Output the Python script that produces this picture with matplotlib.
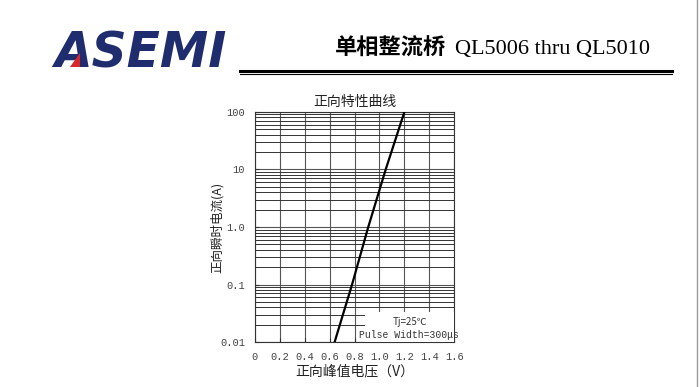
import matplotlib.pyplot as plt
from matplotlib.patches import Rectangle, Polygon
from matplotlib.ticker import FixedLocator, LogLocator, NullFormatter
import numpy as np

plt.rcParams['font.family'] = ['Noto Sans CJK SC', 'DejaVu Sans']

# forward characteristic
volts = [0.64, 0.78, 0.91, 1.05, 1.2]
amps = [0.01, 0.1, 1.0, 10.0, 100.0]

x_ticks = [0, 0.2, 0.4, 0.6, 0.8, 1.0, 1.2, 1.4, 1.6]
x_labels = ["0", "0.2", "0.4", "0.6", "0.8", "1.0", "1.2", "1.4", "1.6"]
y_ticks = [0.01, 0.1, 1.0, 10, 100]
y_labels = ["0.01", "0.1", "1.0", "10", "100"]

fig = plt.figure(figsize=(7, 3.87), dpi=100)

# header: logo, title, double rule
fig.text(0.078, 0.862, "ASEMI", fontsize=35, fontweight='heavy', style='italic',
         color='#1f2d6e', family='DejaVu Sans', ha='left', va='center')
fig.patches.append(Polygon([[0.100, 0.826], [0.114, 0.826], [0.114, 0.862]],
                           closed=True, transform=fig.transFigure,
                           facecolor='#d8262b', edgecolor='none', zorder=5))
fig.text(0.478, 0.875, "单相整流桥", fontsize=16, fontweight='bold',
         color='black', ha='left', va='center', family='Noto Sans CJK SC')
fig.text(0.650, 0.872, "QL5006 thru QL5010", fontsize=16, color='black',
         ha='left', va='center', family='Liberation Serif')
fig.add_artist(plt.Line2D([0.343, 0.96], [0.817, 0.817], color='black', lw=2.2))
fig.add_artist(plt.Line2D([0.343, 0.96], [0.809, 0.809], color='black', lw=0.8))
fig.add_artist(plt.Line2D([0.996, 0.996], [0.0, 1.0], color='#999999', lw=1))

ax = fig.add_axes([0.364, 0.116, 0.285, 0.595])
ax.set_yscale('log')
ax.set_xlim(0, 1.6)
ax.set_ylim(0.01, 100)

ax.yaxis.set_major_locator(FixedLocator(y_ticks))
ax.yaxis.set_minor_locator(LogLocator(base=10, subs=np.arange(2, 10)))
ax.yaxis.set_minor_formatter(NullFormatter())
ax.set_yticklabels(y_labels)
ax.set_xticks(x_ticks)
ax.set_xticklabels(x_labels)

ax.grid(True, which='major', color='#555555', lw=0.8)
ax.grid(True, which='minor', axis='y', color='#333333', lw=0.7)
ax.tick_params(which='both', direction='in', length=3, labelsize=7.5, pad=7,
               colors='#333333', labelcolor='#444444')
for lbl in ax.get_xticklabels() + ax.get_yticklabels():
    lbl.set_family('Liberation Mono')
for s in ax.spines.values():
    s.set_color('#333333')
    s.set_linewidth(0.8)

ax.plot(volts, amps, color='black', lw=1.6, zorder=4)

box = Rectangle((0.88, 0.01), 0.72, 0.024, facecolor='white', edgecolor='none',
                zorder=3)
ax.add_patch(box)
ax.text(1.24, 0.022, "Tj=25℃", fontsize=7, ha='center', va='center', zorder=5,
        color='#333333')
ax.text(1.24, 0.0135, "Pulse Width=300μs", fontsize=7, ha='center', va='center',
        zorder=5, color='#333333', family=['Liberation Mono', 'DejaVu Sans'])

ax.set_title("正向特性曲线", fontsize=10, pad=4, color='#222222')
ax.set_xlabel("正向峰值电压（V）", fontsize=10, color='#222222', labelpad=2)
ax.set_ylabel("正向瞬时电流(A)", fontsize=9, color='#222222')
ax.yaxis.set_label_coords(-0.155, 0.5)

fig.savefig("out.png", dpi=100)
